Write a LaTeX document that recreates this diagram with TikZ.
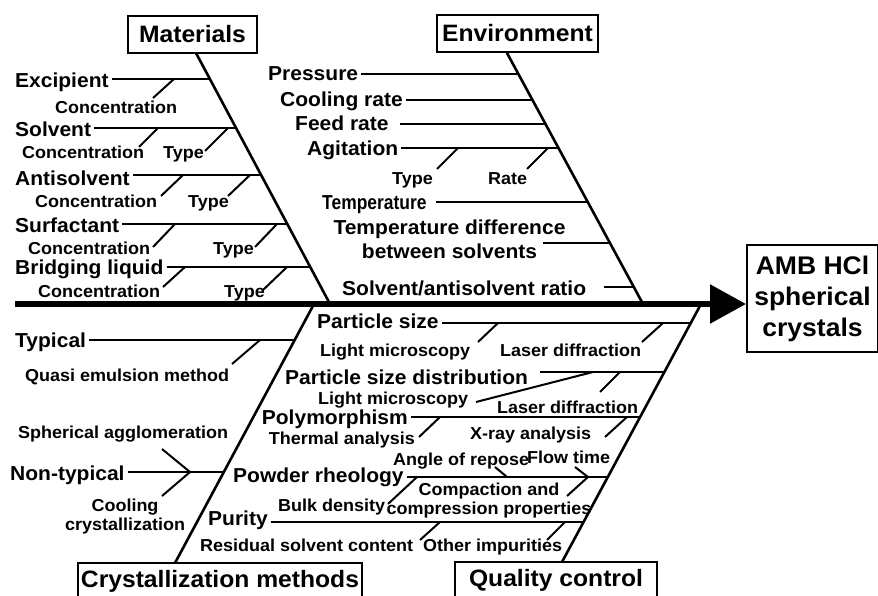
\documentclass[tikz,border=0pt]{standalone}
\usepackage{fontspec}
\setmainfont{Liberation Sans}[FakeStretch=1.04]
\usetikzlibrary{arrows.meta}
\tikzset{
  L1/.style={font=\fontsize{23.7}{28}\selectfont\bfseries},
  L2f/.style={font=\fontsize{20.2}{24}\selectfont\bfseries},
  L2/.style={L2f, inner ysep=0pt, inner xsep=3pt, yshift=-7.2pt},
  L3f/.style={font=\fontsize{17.3}{18.5}\selectfont\bfseries},
  L3/.style={L3f, inner sep=0pt, yshift=-6.2pt},
  catbox/.style={draw, line width=2pt, L1, inner sep=0pt},
  bone/.style={line width=2.6pt},
  br/.style={line width=2pt},
  subl/.style={line width=2pt},
  spine/.style={line width=5.5pt, -{Triangle[length=36pt,width=38pt]}},
}
\begin{document}
\begin{tikzpicture}[x=1pt,y=-1pt]
\path[use as bounding box, fill=white] (0,0) rectangle (878,596);

% ---------- category boxes and effect ----------
\node[catbox, minimum width=129pt, minimum height=37pt] (mat) at (192.5,34.5) {Materials};
\node[catbox, minimum width=161pt, minimum height=37pt] (env) at (517.5,33.5) {Environment};
\node[catbox, minimum width=284pt, minimum height=36pt] (cry) at (220,581) {Crystallization methods};
\node[catbox, minimum width=202pt, minimum height=36pt] (qc) at (556,580) {Quality control};
\node[draw, line width=2pt, inner sep=0pt, minimum width=131pt, minimum height=107pt, align=center,
      font=\fontsize{25.5}{31}\selectfont\bfseries] (eff) at (812.5,298.5) {AMB HCl\\spherical\\crystals};

% ---------- spine ----------
\coordinate (spS) at (15,304);
\draw[spine] (spS) -- (spS -| eff.west);

% ---------- bones ----------
\coordinate (mT) at (196,53);  \coordinate (mB) at (330,304);
\coordinate (eT) at (507,53);  \coordinate (eB) at (643,304);
\coordinate (cT) at (175,563); \coordinate (cB) at (314,304);
\coordinate (qT) at (562,562); \coordinate (qB) at (701,304);
\draw[bone] (mT) -- (mB);
\draw[bone] (eT) -- (eB);
\draw[bone] (cT) -- (cB);
\draw[bone] (qT) -- (qB);

% ---------- Materials ----------
\node[L2, anchor=base west] (exc) at (12,80) {Excipient};
\coordinate (mb1) at (208.9,79);
\draw[br] (exc.east |- mb1) -- (mb1);
\draw[subl] (174,79) -- (153,98);
\node[L3, anchor=base west] (excC) at (55,107) {Concentration};

\node[L2, anchor=base west] (sol) at (12,129) {Solvent};
\coordinate (mb2) at (235.3,128);
\draw[br] (sol.east |- mb2) -- (mb2);
\draw[subl] (158,128) -- (139,147);
\draw[subl] (228,128) -- (205,151);
\node[L3, anchor=base west] (solC) at (22,152) {Concentration};
\node[L3, anchor=base west] (solT) at (163,152) {Type};

\node[L2, anchor=base west] (ant) at (12,178) {Antisolvent};
\coordinate (mb3) at (260.6,175);
\draw[br] (ant.east |- mb3) -- (mb3);
\draw[subl] (183,175) -- (161,196);
\draw[subl] (250,175) -- (228,196);
\node[L3, anchor=base west] (antC) at (35,201) {Concentration};
\node[L3, anchor=base west] (antT) at (188,201) {Type};

\node[L2, anchor=base west] (sur) at (12,225) {Surfactant};
\coordinate (mb4) at (287,224);
\draw[br] (sur.east |- mb4) -- (mb4);
\draw[subl] (175,224) -- (153,247);
\draw[subl] (277,224) -- (255,247);
\node[L3, anchor=base west] (surC) at (28,248) {Concentration};
\node[L3, anchor=base west] (surT) at (213,248) {Type};

\node[L2, anchor=base west] (bri) at (12,267) {Bridging liquid};
\coordinate (mb5) at (310.2,267);
\draw[br] (bri.east |- mb5) -- (mb5);
\draw[subl] (185,267) -- (163,287);
\draw[subl] (287,267) -- (263,290);
\node[L3, anchor=base west] (briC) at (38,291) {Concentration};
\node[L3, anchor=base west] (briT) at (224,291) {Type};

% ---------- Environment ----------
\node[L2, anchor=base west] (pre) at (265,73) {Pressure};
\coordinate (eb1) at (517.4,74);
\draw[br] (pre.east |- eb1) -- (eb1);

\node[L2, anchor=base west] (coo) at (277,99) {Cooling rate};
\coordinate (eb2) at (531.6,100);
\draw[br] (coo.east |- eb2) -- (eb2);

\node[L2, anchor=base west] (fee) at (292,123) {Feed rate};
\coordinate (eb3) at (544.7,124);
\coordinate (feS) at (400,124);
\draw[br] (feS) -- (eb3);

\node[L2, anchor=base west] (agi) at (304,148) {Agitation};
\coordinate (eb4) at (557.8,148);
\draw[br] (agi.east |- eb4) -- (eb4);
\draw[subl] (458,148) -- (437,169);
\draw[subl] (548,148) -- (527,169);
\node[L3, anchor=base west] (agT) at (392,178) {Type};
\node[L3, anchor=base west] (agR) at (488,178) {Rate};

\node[L2, anchor=base west] (tem) at (319,202) {\scalebox{0.83}[1]{Temperature}};
\coordinate (eb5) at (587.4,202);
\coordinate (teS) at (436,202);
\draw[br] (teS) -- (eb5);

\node[L2f, inner sep=0pt, align=center] (tdi) at (449.5,239) {Temperature difference\\between solvents};
\coordinate (eb6) at (609.8,243);
\coordinate (tdS) at (543,243);
\draw[br] (tdS) -- (eb6);

\node[L2, anchor=base west] (sar) at (339,288) {Solvent/antisolvent ratio};
\coordinate (eb7) at (633.8,287);
\coordinate (saS) at (604,287);
\draw[br] (saS) -- (eb7);

% ---------- Crystallization methods ----------
\node[L2, anchor=base west] (typ) at (12,340) {Typical};
\coordinate (cb1) at (295.1,340);
\draw[br] (typ.east |- cb1) -- (cb1);
\draw[subl] (260,340) -- (232,364);
\node[L3, anchor=base west] (typQ) at (25,375) {Quasi emulsion method};

\node[L3, anchor=base west] (sph) at (18,432) {Spherical agglomeration};
\node[L2, anchor=base west] (non) at (7,473) {Non-typical};
\coordinate (cb2) at (223.7,472);
\draw[br] (non.east |- cb2) -- (cb2);
\draw[subl] (162,449) -- (190,472) -- (162,496);
\node[L3f, inner sep=0pt, align=center] (coc) at (125,516.5) {Cooling\\crystallization};

% ---------- Quality control ----------
\node[L2, anchor=base west] (ps) at (314,321) {Particle size};
\coordinate (qb1) at (691.3,323);
\draw[br] (ps.east |- qb1) -- (qb1);
\draw[subl] (498,323) -- (478,342);
\draw[subl] (663,323) -- (642,342);
\node[L3, anchor=base west] (psL) at (320,350) {Light microscopy};
\node[L3, anchor=base west] (psD) at (500,350) {Laser diffraction};

\node[L2, anchor=base west] (psd) at (282,377) {Particle size distribution};
\coordinate (qb2) at (664.8,372);
\coordinate (psdS) at (540,372);
\draw[br] (psdS) -- (qb2);
\draw[subl] (476,402) -- (593,372);
\draw[subl] (620,372) -- (600,392);
\node[L3, anchor=base west] (psdL) at (318,398) {Light microscopy};
\node[L3, anchor=base west] (psdD) at (497,407) {Laser diffraction};

\node[L2, anchor=base east] (pol) at (411,417) {Polymorphism};
\coordinate (qb3) at (640.5,417);
\draw[br] (pol.east |- qb3) -- (qb3);
\draw[subl] (440,417) -- (419,437);
\draw[subl] (627,417) -- (605,437);
\node[L3, anchor=base east] (polT) at (415,438) {Thermal analysis};
\node[L3, anchor=base west] (polX) at (470,433) {X-ray analysis};

\node[L2, anchor=base west] (pow) at (230,475) {Powder rheology};
\coordinate (qb4) at (608,477);
\draw[br] (pow.east |- qb4) -- (qb4);
\draw[subl] (495,467) -- (507,477);
\draw[subl] (575,467) -- (588,477) -- (567,496);
\draw[subl] (417,477) -- (388,504);
\node[L3, anchor=base west] (powA) at (393,459) {Angle of repose};
\node[L3, anchor=base west] (powF) at (527,457) {Flow time};
\node[L3, anchor=base west] (powB) at (278,505) {Bulk density};
\node[L3f, inner sep=0pt, align=center] (powC) at (489,500.5) {Compaction and\\compression properties};

\node[L2, anchor=base west] (pur) at (205,518) {Purity};
\coordinate (qb5) at (583.6,522);
\draw[br] (pur.east |- qb5) -- (qb5);
\draw[subl] (440,522) -- (420,540);
\draw[subl] (565,522) -- (547,540);
\node[L3, anchor=base west] (purR) at (200,545) {Residual solvent content};
\node[L3, anchor=base west] (purO) at (423,545) {Other impurities};
\end{tikzpicture}
\end{document}
